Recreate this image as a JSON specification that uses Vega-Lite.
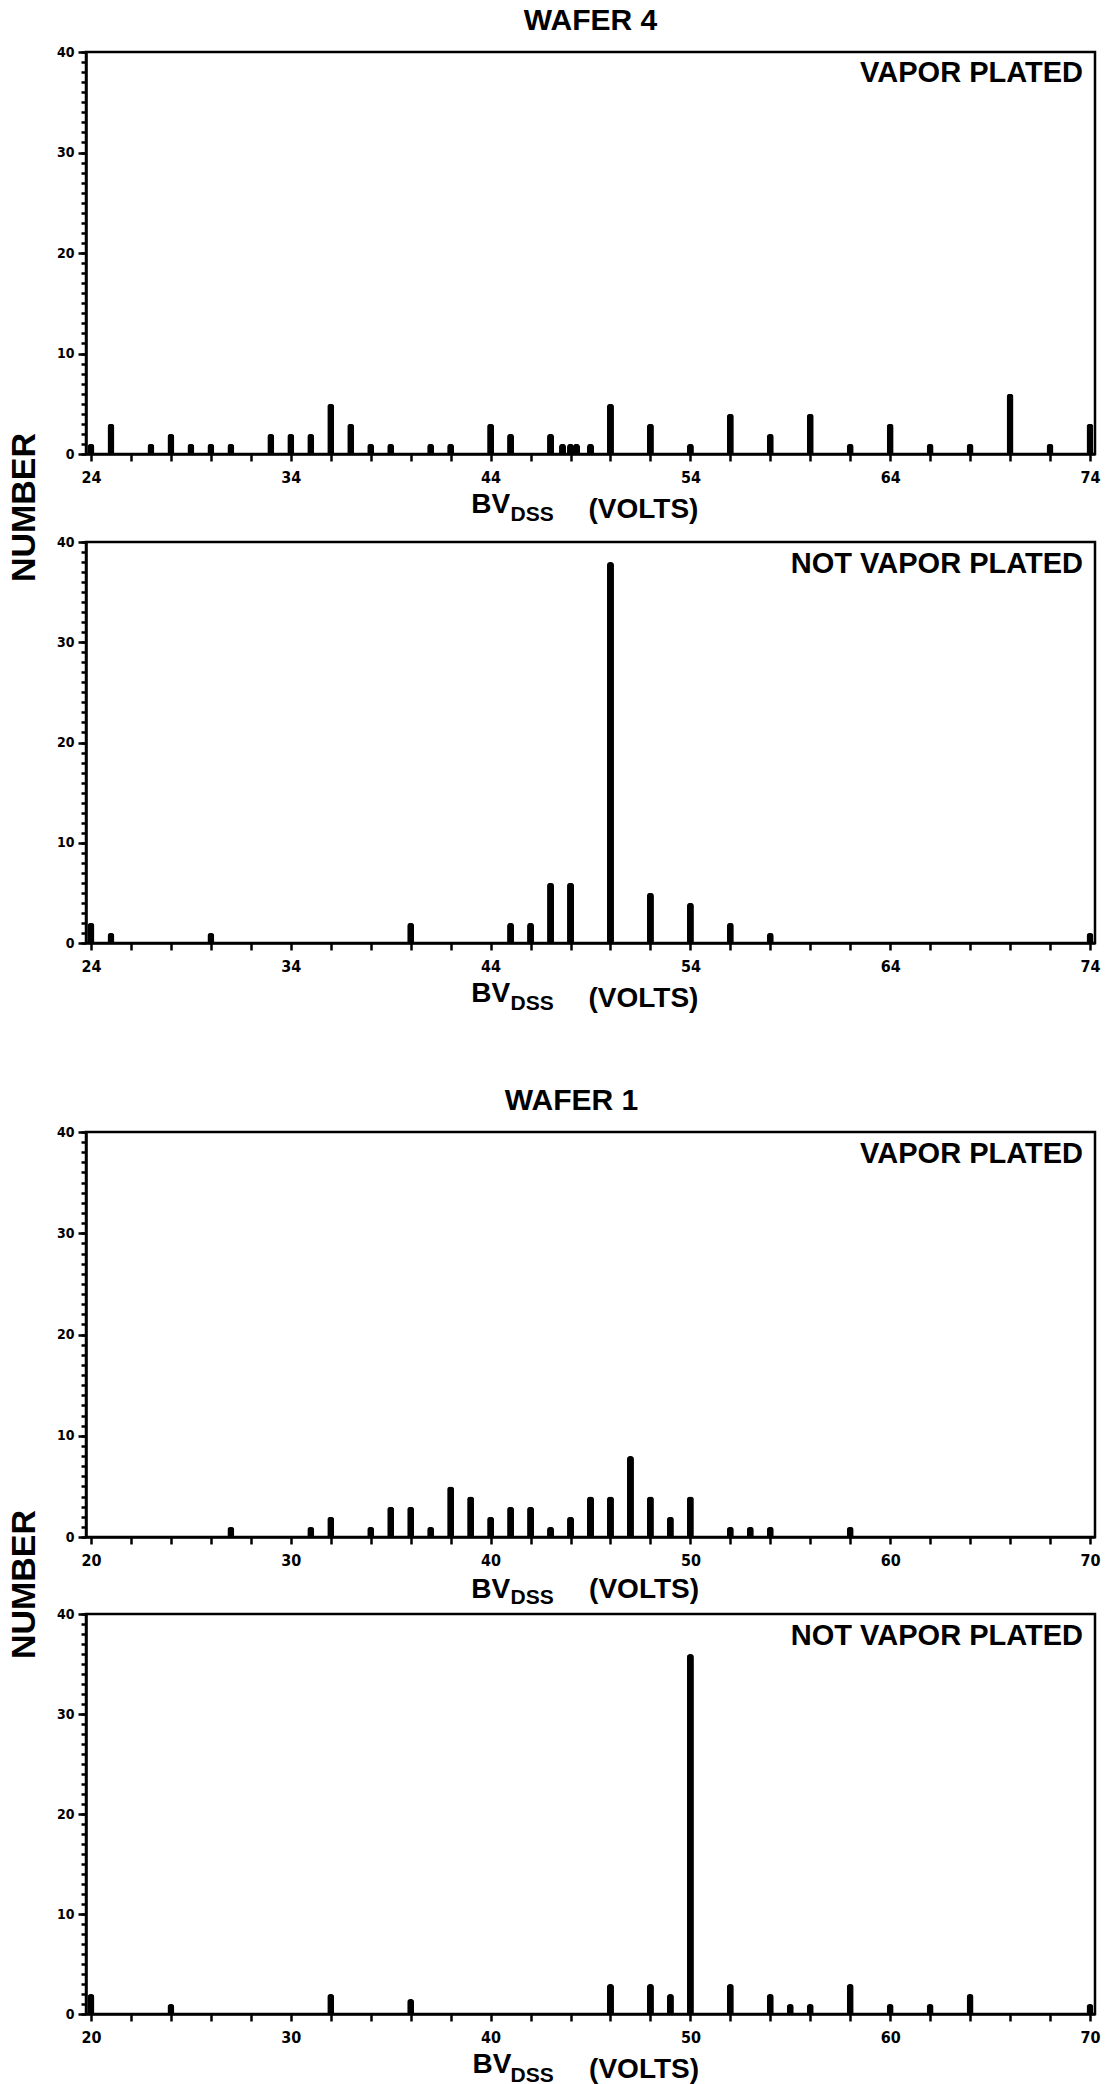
{
  "$schema": "https://vega.github.io/schema/vega-lite/v6.json",
  "background": "white",
  "padding": {"left": 5, "top": 4, "right": 0, "bottom": 0},
  "data": {"values": [
    {"p":"w4v","v":24,"n":1},{"p":"w4v","v":25,"n":3},{"p":"w4v","v":27,"n":1},{"p":"w4v","v":28,"n":2},
    {"p":"w4v","v":29,"n":1},{"p":"w4v","v":30,"n":1},{"p":"w4v","v":31,"n":1},{"p":"w4v","v":33,"n":2},
    {"p":"w4v","v":34,"n":2},{"p":"w4v","v":35,"n":2},{"p":"w4v","v":36,"n":5},{"p":"w4v","v":37,"n":3},
    {"p":"w4v","v":38,"n":1},{"p":"w4v","v":39,"n":1},{"p":"w4v","v":41,"n":1},{"p":"w4v","v":42,"n":1},
    {"p":"w4v","v":44,"n":3},{"p":"w4v","v":45,"n":2},{"p":"w4v","v":47,"n":2},{"p":"w4v","v":47.6,"n":1},
    {"p":"w4v","v":48,"n":1},{"p":"w4v","v":48.3,"n":1},{"p":"w4v","v":49,"n":1},{"p":"w4v","v":50,"n":5},
    {"p":"w4v","v":52,"n":3},{"p":"w4v","v":54,"n":1},{"p":"w4v","v":56,"n":4},{"p":"w4v","v":58,"n":2},
    {"p":"w4v","v":60,"n":4},{"p":"w4v","v":62,"n":1},{"p":"w4v","v":64,"n":3},{"p":"w4v","v":66,"n":1},
    {"p":"w4v","v":68,"n":1},{"p":"w4v","v":70,"n":6},{"p":"w4v","v":72,"n":1},{"p":"w4v","v":74,"n":3},
    {"p":"w4n","v":24,"n":2},{"p":"w4n","v":25,"n":1},{"p":"w4n","v":30,"n":1},{"p":"w4n","v":40,"n":2},
    {"p":"w4n","v":45,"n":2},{"p":"w4n","v":46,"n":2},{"p":"w4n","v":47,"n":6},{"p":"w4n","v":48,"n":6},
    {"p":"w4n","v":50,"n":38},{"p":"w4n","v":52,"n":5},{"p":"w4n","v":54,"n":4},{"p":"w4n","v":56,"n":2},
    {"p":"w4n","v":58,"n":1},{"p":"w4n","v":74,"n":1},
    {"p":"w1v","v":27,"n":1},{"p":"w1v","v":31,"n":1},{"p":"w1v","v":32,"n":2},{"p":"w1v","v":34,"n":1},
    {"p":"w1v","v":35,"n":3},{"p":"w1v","v":36,"n":3},{"p":"w1v","v":37,"n":1},{"p":"w1v","v":38,"n":5},
    {"p":"w1v","v":39,"n":4},{"p":"w1v","v":40,"n":2},{"p":"w1v","v":41,"n":3},{"p":"w1v","v":42,"n":3},
    {"p":"w1v","v":43,"n":1},{"p":"w1v","v":44,"n":2},{"p":"w1v","v":45,"n":4},{"p":"w1v","v":46,"n":4},
    {"p":"w1v","v":47,"n":8},{"p":"w1v","v":48,"n":4},{"p":"w1v","v":49,"n":2},{"p":"w1v","v":50,"n":4},
    {"p":"w1v","v":52,"n":1},{"p":"w1v","v":53,"n":1},{"p":"w1v","v":54,"n":1},{"p":"w1v","v":58,"n":1},
    {"p":"w1n","v":20,"n":2},{"p":"w1n","v":24,"n":1},{"p":"w1n","v":32,"n":2},{"p":"w1n","v":36,"n":1.5},
    {"p":"w1n","v":46,"n":3},{"p":"w1n","v":48,"n":3},{"p":"w1n","v":49,"n":2},{"p":"w1n","v":50,"n":36},
    {"p":"w1n","v":52,"n":3},{"p":"w1n","v":54,"n":2},{"p":"w1n","v":55,"n":1},{"p":"w1n","v":56,"n":1},
    {"p":"w1n","v":58,"n":3},{"p":"w1n","v":60,"n":1},{"p":"w1n","v":62,"n":1},{"p":"w1n","v":64,"n":2},
    {"p":"w1n","v":70,"n":1}
  ]},
  "config": {
    "view": {"stroke": "black", "strokeWidth": 2.5},
    "axis": {"domainColor": "black", "domainWidth": 2.5, "tickColor": "black", "tickWidth": 2.5,
             "labelColor": "black", "labelFont": "Liberation Sans Narrow, DejaVu Sans Condensed, Liberation Sans, sans-serif",
             "labelFontWeight": "bold", "grid": false, "labelOverlap": false, "labelBound": false, "labelFlush": false},
    "text": {"font": "Liberation Sans, Arial, sans-serif", "fontWeight": "bold", "color": "black"},
    "title": {"font": "Liberation Sans, Arial, sans-serif", "fontWeight": "bold", "color": "black"}
  },
  "bounds": "flush",
  "spacing": 0,
  "vconcat": [
    {
      "width": 1009, "height": 402,
      "title": {"text": "WAFER 4", "fontSize": 30, "anchor": "middle", "offset": 9},
      "resolve": {"axis": {"y": "independent"}},
      "layer": [
        {
          "transform": [{"filter": "datum.p === 'w4v'"}],
          "mark": {"type": "bar", "width": 7, "color": "black", "cornerRadiusTopLeft": 3, "cornerRadiusTopRight": 3},
          "encoding": {
            "x": {"field": "v", "type": "quantitative", "scale": {"domain": [24, 74], "nice": false, "zero": false},
                  "axis": {"title": null, "labelOverlap": false, "values": [24,24.5,25,25.5,26,26.5,27,27.5,28,28.5,29,29.5,30,30.5,31,31.5,32,32.5,33,33.5,34,34.5,35,35.5,36,36.5,37,37.5,38,38.5,39,39.5,40,40.5,41,41.5,42,42.5,43,43.5,44,44.5,45,45.5,46,46.5,47,47.5,48,48.5,49,49.5,50,50.5,51,51.5,52,52.5,53,53.5,54,54.5,55,55.5,56,56.5,57,57.5,58,58.5,59,59.5,60,60.5,61,61.5,62,62.5,63,63.5,64,64.5,65,65.5,66,66.5,67,67.5,68,68.5,69,69.5,70,70.5,71,71.5,72,72.5,73,73.5,74],
                           "labelExpr": "datum.value % 10 === 4 ? datum.label : ''", "tickSize": 7, "labelPadding": 8, "labelFontSize": 16}},
            "y": {"field": "n", "type": "quantitative", "scale": {"domain": [0, 40], "nice": false},
                  "axis": {"orient": "left", "title": "NUMBER", "titleX": -62, "titleY": 455, "titleAngle": 270, "titleBaseline": "middle", "titleAlign": "center",
                           "titleFontSize": 34, "titleFont": "Liberation Sans, Arial, sans-serif", "titleFontWeight": "bold", "titleColor": "black",
                           "labelOverlap": false, "values": [0, 10, 20, 30, 40], "tickSize": 8, "labelPadding": 4, "labelFontSize": 14}}
          }
        },
        {"data": {"values": [{}]}, "mark": {"type": "text", "text": "VAPOR PLATED", "align": "right", "baseline": "middle", "dx": -7, "fontSize": 29},
         "encoding": {"x": {"datum": 74, "type": "quantitative"},
                      "y": {"datum": 37.9, "type": "quantitative", "axis": {"orient": "left", "title": null, "labels": false, "domain": false, "tickSize": 5,
                             "values": [0,1,2,3,4,5,6,7,8,9,10,11,12,13,14,15,16,17,18,19,20,21,22,23,24,25,26,27,28,29,30,31,32,33,34,35,36,37,38,39,40]}}}},
        {"data": {"values": [{}]}, "mark": {"type": "text", "text": "BV", "align": "left", "baseline": "alphabetic", "fontSize": 28},
         "encoding": {"x": {"datum": 43.03, "type": "quantitative"}, "y": {"datum": -5.9, "type": "quantitative", "axis": null}}},
        {"data": {"values": [{}]}, "mark": {"type": "text", "text": "DSS", "align": "left", "baseline": "alphabetic", "fontSize": 21},
         "encoding": {"x": {"datum": 45.0, "type": "quantitative"}, "y": {"datum": -6.7, "type": "quantitative", "axis": null}}},
        {"data": {"values": [{}]}, "mark": {"type": "text", "text": "(VOLTS)", "align": "left", "baseline": "alphabetic", "fontSize": 28},
         "encoding": {"x": {"datum": 48.9, "type": "quantitative"}, "y": {"datum": -6.4, "type": "quantitative", "axis": null}}}
      ]
    },
    {"width": 1009, "height": 88, "view": {"stroke": null}, "data": {"values": [{}]}, "mark": {"type": "text", "text": ""}},
    {
      "width": 1009, "height": 401,
      "resolve": {"axis": {"y": "independent"}},
      "layer": [
        {
          "transform": [{"filter": "datum.p === 'w4n'"}],
          "mark": {"type": "bar", "width": 7, "color": "black", "cornerRadiusTopLeft": 3, "cornerRadiusTopRight": 3},
          "encoding": {
            "x": {"field": "v", "type": "quantitative", "scale": {"domain": [24, 74], "nice": false, "zero": false},
                  "axis": {"title": null, "labelOverlap": false, "values": [24,24.5,25,25.5,26,26.5,27,27.5,28,28.5,29,29.5,30,30.5,31,31.5,32,32.5,33,33.5,34,34.5,35,35.5,36,36.5,37,37.5,38,38.5,39,39.5,40,40.5,41,41.5,42,42.5,43,43.5,44,44.5,45,45.5,46,46.5,47,47.5,48,48.5,49,49.5,50,50.5,51,51.5,52,52.5,53,53.5,54,54.5,55,55.5,56,56.5,57,57.5,58,58.5,59,59.5,60,60.5,61,61.5,62,62.5,63,63.5,64,64.5,65,65.5,66,66.5,67,67.5,68,68.5,69,69.5,70,70.5,71,71.5,72,72.5,73,73.5,74],
                           "labelExpr": "datum.value % 10 === 4 ? datum.label : ''", "tickSize": 7, "labelPadding": 8, "labelFontSize": 16}},
            "y": {"field": "n", "type": "quantitative", "scale": {"domain": [0, 40], "nice": false},
                  "axis": {"orient": "left", "title": null, "labelOverlap": false, "values": [0, 10, 20, 30, 40], "tickSize": 8, "labelPadding": 4, "labelFontSize": 14}}
          }
        },
        {"data": {"values": [{}]}, "mark": {"type": "text", "text": "NOT VAPOR PLATED", "align": "right", "baseline": "middle", "dx": -7, "fontSize": 29},
         "encoding": {"x": {"datum": 74, "type": "quantitative"},
                      "y": {"datum": 37.8, "type": "quantitative", "axis": {"orient": "left", "title": null, "labels": false, "domain": false, "tickSize": 5,
                             "values": [0,1,2,3,4,5,6,7,8,9,10,11,12,13,14,15,16,17,18,19,20,21,22,23,24,25,26,27,28,29,30,31,32,33,34,35,36,37,38,39,40]}}}},
        {"data": {"values": [{}]}, "mark": {"type": "text", "text": "BV", "align": "left", "baseline": "alphabetic", "fontSize": 28},
         "encoding": {"x": {"datum": 43.03, "type": "quantitative"}, "y": {"datum": -5.9, "type": "quantitative", "axis": null}}},
        {"data": {"values": [{}]}, "mark": {"type": "text", "text": "DSS", "align": "left", "baseline": "alphabetic", "fontSize": 21},
         "encoding": {"x": {"datum": 45.0, "type": "quantitative"}, "y": {"datum": -6.7, "type": "quantitative", "axis": null}}},
        {"data": {"values": [{}]}, "mark": {"type": "text", "text": "(VOLTS)", "align": "left", "baseline": "alphabetic", "fontSize": 28},
         "encoding": {"x": {"datum": 48.9, "type": "quantitative"}, "y": {"datum": -6.4, "type": "quantitative", "axis": null}}}
      ]
    },
    {"width": 1009, "height": 189, "view": {"stroke": null}, "data": {"values": [{}]}, "mark": {"type": "text", "text": ""}},
    {
      "width": 1009, "height": 405,
      "title": {"text": "WAFER 1", "fontSize": 30, "anchor": "middle", "offset": 9, "dx": -19},
      "resolve": {"axis": {"y": "independent"}},
      "layer": [
        {
          "transform": [{"filter": "datum.p === 'w1v'"}],
          "mark": {"type": "bar", "width": 7, "color": "black", "cornerRadiusTopLeft": 3, "cornerRadiusTopRight": 3},
          "encoding": {
            "x": {"field": "v", "type": "quantitative", "scale": {"domain": [20, 70], "nice": false, "zero": false},
                  "axis": {"title": null, "labelOverlap": false, "values": [20,20.5,21,21.5,22,22.5,23,23.5,24,24.5,25,25.5,26,26.5,27,27.5,28,28.5,29,29.5,30,30.5,31,31.5,32,32.5,33,33.5,34,34.5,35,35.5,36,36.5,37,37.5,38,38.5,39,39.5,40,40.5,41,41.5,42,42.5,43,43.5,44,44.5,45,45.5,46,46.5,47,47.5,48,48.5,49,49.5,50,50.5,51,51.5,52,52.5,53,53.5,54,54.5,55,55.5,56,56.5,57,57.5,58,58.5,59,59.5,60,60.5,61,61.5,62,62.5,63,63.5,64,64.5,65,65.5,66,66.5,67,67.5,68,68.5,69,69.5,70],
                           "labelExpr": "datum.value % 10 === 0 ? datum.label : ''", "tickSize": 7, "labelPadding": 8, "labelFontSize": 16}},
            "y": {"field": "n", "type": "quantitative", "scale": {"domain": [0, 40], "nice": false},
                  "axis": {"orient": "left", "title": "NUMBER", "titleX": -62, "titleY": 452, "titleAngle": 270, "titleBaseline": "middle", "titleAlign": "center",
                           "titleFontSize": 34, "titleFont": "Liberation Sans, Arial, sans-serif", "titleFontWeight": "bold", "titleColor": "black",
                           "labelOverlap": false, "values": [0, 10, 20, 30, 40], "tickSize": 8, "labelPadding": 4, "labelFontSize": 14}}
          }
        },
        {"data": {"values": [{}]}, "mark": {"type": "text", "text": "VAPOR PLATED", "align": "right", "baseline": "middle", "dx": -7, "fontSize": 29},
         "encoding": {"x": {"datum": 70, "type": "quantitative"},
                      "y": {"datum": 37.8, "type": "quantitative", "axis": {"orient": "left", "title": null, "labels": false, "domain": false, "tickSize": 5,
                             "values": [0,1,2,3,4,5,6,7,8,9,10,11,12,13,14,15,16,17,18,19,20,21,22,23,24,25,26,27,28,29,30,31,32,33,34,35,36,37,38,39,40]}}}},
        {"data": {"values": [{}]}, "mark": {"type": "text", "text": "BV", "align": "left", "baseline": "alphabetic", "fontSize": 28},
         "encoding": {"x": {"datum": 39.03, "type": "quantitative"}, "y": {"datum": -6.0, "type": "quantitative", "axis": null}}},
        {"data": {"values": [{}]}, "mark": {"type": "text", "text": "DSS", "align": "left", "baseline": "alphabetic", "fontSize": 21},
         "encoding": {"x": {"datum": 41.0, "type": "quantitative"}, "y": {"datum": -6.6, "type": "quantitative", "axis": null}}},
        {"data": {"values": [{}]}, "mark": {"type": "text", "text": "(VOLTS)", "align": "left", "baseline": "alphabetic", "fontSize": 28},
         "encoding": {"x": {"datum": 44.93, "type": "quantitative"}, "y": {"datum": -6.0, "type": "quantitative", "axis": null}}}
      ]
    },
    {"width": 1009, "height": 77, "view": {"stroke": null}, "data": {"values": [{}]}, "mark": {"type": "text", "text": ""}},
    {
      "width": 1009, "height": 400,
      "resolve": {"axis": {"y": "independent"}},
      "layer": [
        {
          "transform": [{"filter": "datum.p === 'w1n'"}],
          "mark": {"type": "bar", "width": 7, "color": "black", "cornerRadiusTopLeft": 3, "cornerRadiusTopRight": 3},
          "encoding": {
            "x": {"field": "v", "type": "quantitative", "scale": {"domain": [20, 70], "nice": false, "zero": false},
                  "axis": {"title": null, "labelOverlap": false, "values": [20,20.5,21,21.5,22,22.5,23,23.5,24,24.5,25,25.5,26,26.5,27,27.5,28,28.5,29,29.5,30,30.5,31,31.5,32,32.5,33,33.5,34,34.5,35,35.5,36,36.5,37,37.5,38,38.5,39,39.5,40,40.5,41,41.5,42,42.5,43,43.5,44,44.5,45,45.5,46,46.5,47,47.5,48,48.5,49,49.5,50,50.5,51,51.5,52,52.5,53,53.5,54,54.5,55,55.5,56,56.5,57,57.5,58,58.5,59,59.5,60,60.5,61,61.5,62,62.5,63,63.5,64,64.5,65,65.5,66,66.5,67,67.5,68,68.5,69,69.5,70],
                           "labelExpr": "datum.value % 10 === 0 ? datum.label : ''", "tickSize": 7, "labelPadding": 8, "labelFontSize": 16}},
            "y": {"field": "n", "type": "quantitative", "scale": {"domain": [0, 40], "nice": false},
                  "axis": {"orient": "left", "title": null, "labelOverlap": false, "values": [0, 10, 20, 30, 40], "tickSize": 8, "labelPadding": 4, "labelFontSize": 14}}
          }
        },
        {"data": {"values": [{}]}, "mark": {"type": "text", "text": "NOT VAPOR PLATED", "align": "right", "baseline": "middle", "dx": -7, "fontSize": 29},
         "encoding": {"x": {"datum": 70, "type": "quantitative"},
                      "y": {"datum": 37.8, "type": "quantitative", "axis": {"orient": "left", "title": null, "labels": false, "domain": false, "tickSize": 5,
                             "values": [0,1,2,3,4,5,6,7,8,9,10,11,12,13,14,15,16,17,18,19,20,21,22,23,24,25,26,27,28,29,30,31,32,33,34,35,36,37,38,39,40]}}}},
        {"data": {"values": [{}]}, "mark": {"type": "text", "text": "BV", "align": "left", "baseline": "alphabetic", "fontSize": 28},
         "encoding": {"x": {"datum": 39.1, "type": "quantitative"}, "y": {"datum": -5.9, "type": "quantitative", "axis": null}}},
        {"data": {"values": [{}]}, "mark": {"type": "text", "text": "DSS", "align": "left", "baseline": "alphabetic", "fontSize": 21},
         "encoding": {"x": {"datum": 41.0, "type": "quantitative"}, "y": {"datum": -6.8, "type": "quantitative", "axis": null}}},
        {"data": {"values": [{}]}, "mark": {"type": "text", "text": "(VOLTS)", "align": "left", "baseline": "alphabetic", "fontSize": 28},
         "encoding": {"x": {"datum": 44.93, "type": "quantitative"}, "y": {"datum": -6.4, "type": "quantitative", "axis": null}}}
      ]
    }
  ]
}
